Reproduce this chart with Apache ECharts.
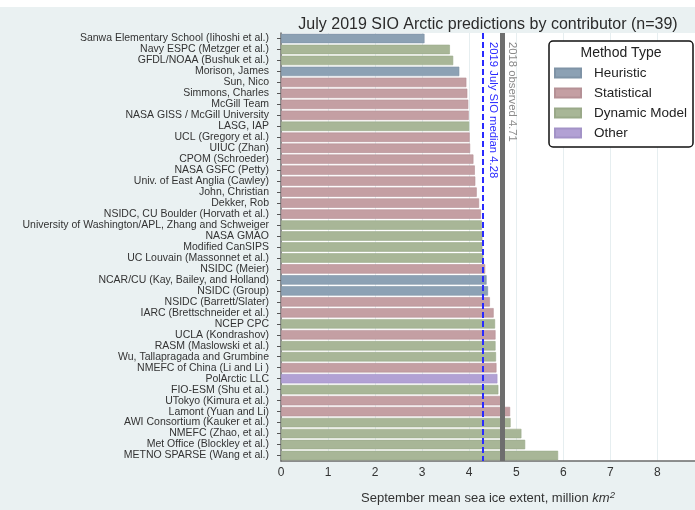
<!DOCTYPE html>
<html>
<head>
<meta charset="utf-8">
<script src="https://cdn.jsdelivr.net/npm/echarts@6/dist/echarts.min.js"></script>
<style>
  html, body { margin: 0; padding: 0; background: #eaf1f2; }
  #chart { width: 695px; height: 510px; }
</style>
</head>
<body>
<div id="chart"></div>
<script>
// Contributors, top to bottom
const contributors = [
  'Sanwa Elementary School (Iihoshi et al.)',
  'Navy ESPC (Metzger et al.)',
  'GFDL/NOAA (Bushuk et al.)',
  'Morison, James',
  'Sun, Nico',
  'Simmons, Charles',
  'McGill Team',
  'NASA GISS / McGill University',
  'LASG, IAP',
  'UCL (Gregory et al.)',
  'UIUC (Zhan)',
  'CPOM (Schroeder)',
  'NASA GSFC (Petty)',
  'Univ. of East Anglia (Cawley)',
  'John, Christian',
  'Dekker, Rob',
  'NSIDC, CU Boulder (Horvath et al.)',
  'University of Washington/APL, Zhang and Schweiger',
  'NASA GMAO',
  'Modified CanSIPS',
  'UC Louvain (Massonnet et al.)',
  'NSIDC (Meier)',
  'NCAR/CU (Kay, Bailey, and Holland)',
  'NSIDC (Group)',
  'NSIDC (Barrett/Slater)',
  'IARC (Brettschneider et al.)',
  'NCEP CPC',
  'UCLA (Kondrashov)',
  'RASM (Maslowski et al.)',
  'Wu, Tallapragada and Grumbine',
  'NMEFC of China (Li and Li )',
  'PolArctic LLC',
  'FIO-ESM (Shu et al.)',
  'UTokyo (Kimura et al.)',
  'Lamont (Yuan and Li)',
  'AWI Consortium (Kauker et al.)',
  'NMEFC (Zhao, et al.)',
  'Met Office (Blockley et al.)',
  'METNO SPARSE (Wang et al.)'
];

// September mean extent predictions, million km^2
const extents = [
  3.05, 3.59, 3.66, 3.79, 3.94, 3.96, 3.98, 3.99, 4.00, 4.01,
  4.02, 4.09, 4.12, 4.13, 4.16, 4.21, 4.25, 4.27, 4.28, 4.28,
  4.30, 4.34, 4.37, 4.40, 4.44, 4.52, 4.55, 4.56, 4.56, 4.57,
  4.58, 4.60, 4.62, 4.69, 4.87, 4.88, 5.11, 5.19, 5.89
];

// Method type for each contributor
const methods = [
  'Heuristic', 'Dynamic Model', 'Dynamic Model', 'Heuristic', 'Statistical',
  'Statistical', 'Statistical', 'Statistical', 'Dynamic Model', 'Statistical',
  'Statistical', 'Statistical', 'Statistical', 'Statistical', 'Statistical',
  'Statistical', 'Statistical', 'Dynamic Model', 'Dynamic Model', 'Dynamic Model',
  'Dynamic Model', 'Statistical', 'Heuristic', 'Heuristic', 'Statistical',
  'Statistical', 'Dynamic Model', 'Statistical', 'Dynamic Model', 'Dynamic Model',
  'Statistical', 'Other', 'Dynamic Model', 'Statistical', 'Statistical',
  'Dynamic Model', 'Dynamic Model', 'Dynamic Model', 'Dynamic Model'
];

const methodTypes = ['Heuristic', 'Statistical', 'Dynamic Model', 'Other'];
const methodColors = ['#8ca1b4', '#c49fa3', '#a8b697', '#b2a1d4'];
const methodBorders = ['#7f93a6', '#b59196', '#9aa989', '#a393c7'];

// Reference lines
const sioMedian = 4.28;
const observed2018 = 4.71;

// Axis range and tick step (the plot runs off the right edge)
const xMin = 0, xMax = 8.8, xStep = 1;

const FONT = '"Liberation Sans", Arial, Helvetica, sans-serif';
const chart = echarts.init(document.getElementById('chart'), null, { renderer: 'canvas' });

const series = methodTypes.map((m, k) => ({
  name: m,
  type: 'bar',
  barGap: '-100%',
  barCategoryGap: '14%',
  itemStyle: { color: methodColors[k], borderColor: methodBorders[k], borderWidth: 0.6 },
  data: extents.map((v, i) => methods[i] === m ? v : '-'),
  z: 2
}));

// Median and observed lines drawn on top of the bars
series.push({
  name: 'lines',
  type: 'bar',
  data: [],
  z: 5,
  markLine: {
    symbol: 'none',
    silent: true,
    animation: false,
    label: { show: false },
    data: [
      { xAxis: sioMedian, lineStyle: { color: '#2a2aff', width: 2, type: [6, 3] } },
      { xAxis: observed2018, lineStyle: { color: '#6e6e6e', width: 5, type: 'solid' } }
    ]
  }
});

const option = {
  animation: false,
  backgroundColor: '#eaf1f2',
  textStyle: { fontFamily: FONT },
  title: {
    text: 'July 2019 SIO Arctic predictions by contributor (n=39)',
    left: 483, top: 12, textAlign: 'center',
    textStyle: { fontSize: 16, fontWeight: 'normal', color: '#2b2b2b', fontFamily: FONT }
  },
  legend: {
    data: methodTypes,
    orient: 'vertical',
    left: 554, top: 65,
    padding: 0,
    itemWidth: 26, itemHeight: 9, itemGap: 4,
    icon: 'rect',
    z: 20,
    textStyle: { fontSize: 13.5, lineHeight: 16, color: '#222', fontFamily: FONT, padding: [0, 0, 0, 8] }
  },
  grid: {
    left: 281, top: 33, right: 0, height: 435,
    show: true, backgroundColor: '#ffffff', borderWidth: 0
  },
  xAxis: {
    type: 'value',
    min: xMin, max: xMax, interval: xStep,
    name: 'September mean sea ice extent, million {i|km}{s|2}',
    nameLocation: 'middle',
    nameGap: 29,
    nameTextStyle: {
      fontSize: 13, color: '#333', fontFamily: FONT,
      rich: {
        i: { fontSize: 13, fontStyle: 'italic', color: '#333', fontFamily: FONT },
        s: { fontSize: 9.5, fontStyle: 'italic', color: '#333', fontFamily: FONT, padding: [0, 0, 7, 0] }
      }
    },
    axisLine: { show: true, lineStyle: { color: '#6b6b6b', width: 1.5 } },
    axisTick: { show: false },
    axisLabel: { fontSize: 12, color: '#333', margin: 6, fontFamily: FONT, showMaxLabel: false },
    splitLine: { show: true, lineStyle: { color: '#e6eef0', width: 1 } }
  },
  yAxis: {
    type: 'category',
    data: contributors,
    inverse: true,
    axisLine: { show: true, lineStyle: { color: '#6b6b6b', width: 1.5 } },
    axisTick: { show: true, alignWithLabel: true, interval: 0, length: 4, lineStyle: { color: '#555' } },
    axisLabel: { fontSize: 10.5, color: '#333', margin: 12, interval: 0, fontFamily: FONT },
    splitLine: { show: false }
  },
  series: series
};

chart.setOption(option);

// Vertical labels next to the reference lines, plus the legend frame
const gridTop = 33;
const xMed = chart.convertToPixel({ xAxisIndex: 0 }, sioMedian);
const xObs = chart.convertToPixel({ xAxisIndex: 0 }, observed2018);

chart.setOption({
  graphic: [
    { type: 'rect', z: 0, silent: true, shape: { x: 0, y: 0, width: 695, height: 7 }, style: { fill: '#ffffff' } },
    {
      type: 'rect', z: 10, silent: true,
      shape: { x: 549, y: 41, width: 144, height: 106, r: 4 },
      style: { fill: '#ffffff', stroke: '#111', lineWidth: 1.5 }
    },
    {
      type: 'text', z: 11, silent: true, x: 621, y: 53,
      style: { text: 'Method Type', fill: '#222', font: '14px ' + FONT, align: 'center', verticalAlign: 'middle' }
    },
    {
      type: 'text', z: 11, silent: true, x: xMed + 10.5, y: gridTop + 9, rotation: -Math.PI / 2,
      style: { text: '2019 July SIO median ' + sioMedian.toFixed(2), fill: '#2a2aff', font: '11.3px ' + FONT, align: 'left', verticalAlign: 'middle' }
    },
    {
      type: 'text', z: 11, silent: true, x: xObs + 10, y: gridTop + 9, rotation: -Math.PI / 2,
      style: { text: '2018 observed ' + observed2018.toFixed(2), fill: '#8a8a8a', font: '11.3px ' + FONT, align: 'left', verticalAlign: 'middle' }
    }
  ]
});
</script>
</body>
</html>
